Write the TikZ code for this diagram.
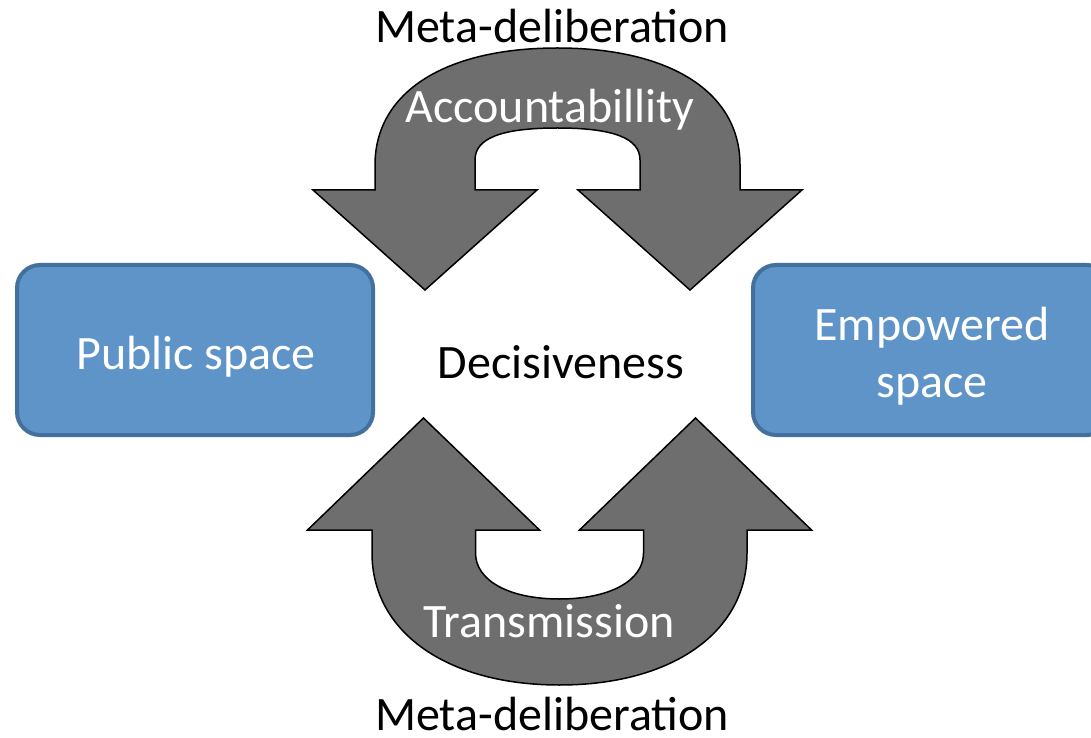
\documentclass[tikz,border=0pt]{standalone}
\usepackage{fontspec}
\setmainfont{Carlito}
\definecolor{arrowgray}{RGB}{110,110,110}
\definecolor{boxfill}{RGB}{95,148,200}
\definecolor{boxline}{RGB}{65,113,156}
\begin{document}
\begin{tikzpicture}[x=1pt,y=1pt,
  uarrow/.style={fill=arrowgray,draw=black,line width=1.5pt,line join=miter},
  spacebox/.style={rounded corners=23pt,fill=boxfill,draw=boxline,line width=4pt},
  lbl/.style={anchor=base,inner sep=0pt,font=\fontsize{48pt}{54pt}\selectfont},
  wlbl/.style={lbl,text=white}]
\useasboundingbox (0,0) rectangle (1091,737);
\fill[white] (0,0) rectangle (1091,737);
% top U-turn arrow
\path[uarrow] (313,547) -- (375,547) -- (375,572)
  .. controls (375,644.5) and (444.35,689) .. (557.5,689)
  .. controls (670.65,689) and (740,644.5) .. (740,572)
  -- (740,547) -- (802,547) -- (690,447) -- (578,547) -- (640,547) -- (640,577)
  .. controls (640,598.8) and (613.6,609) .. (557.5,609)
  .. controls (501.4,609) and (475,598.8) .. (475,577)
  -- (475,547) -- (537,547) -- (425,447) -- cycle;
% bottom U-turn arrow
\path[uarrow] (307.5,207) -- (372,207) -- (372,184)
  .. controls (372,104.8) and (447,52) .. (559.5,52)
  .. controls (672,52) and (747,104.8) .. (747,184)
  -- (747,207) -- (811.5,207) -- (695.5,319) -- (579.5,207) -- (643.5,207) -- (643.5,184)
  .. controls (643.5,156.4) and (609.9,138) .. (559.5,138)
  .. controls (509.1,138) and (475.5,156.4) .. (475.5,184)
  -- (475.5,207) -- (539.5,207) -- (423.5,319) -- cycle;
% boxes
\path[spacebox] (17,302) rectangle (373,472);
\path[spacebox] (753,302) rectangle (1110,472);
% labels
\node[lbl] (metatop) at (552,694) {Meta-deliberation};
\node[wlbl] (acc) at (550,614) {Accountabillity};
\node[lbl] (dec) at (561,359) {Decisiveness};
\node[wlbl] (pub) at (196,367) {Public space};
\node[wlbl] (emp1) at (932,396) {Empowered};
\node[wlbl] (emp2) at (932,340) {space};
\node[wlbl] (trans) at (549,100) {Transmission};
\node[lbl,text depth=0pt] (metabot) at (552,7) {Meta-deliberation};
\end{tikzpicture}
\end{document}
